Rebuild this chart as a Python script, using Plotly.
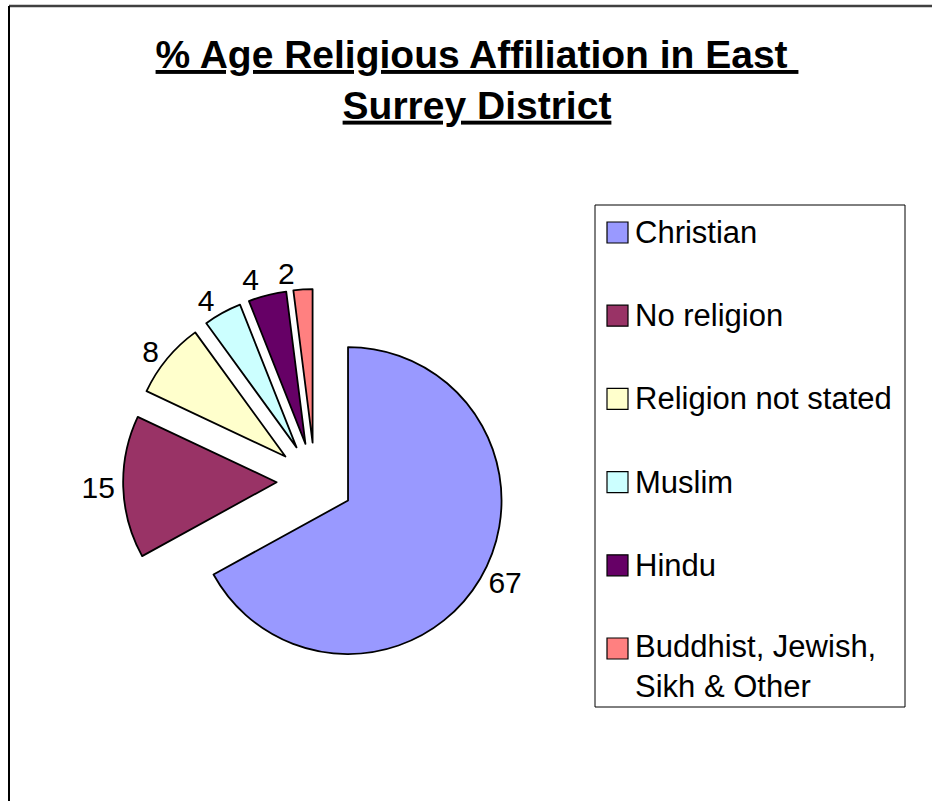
import plotly.graph_objects as go

# ---- data ----
categories = ["Christian", "No religion", "Religion not stated", "Muslim", "Hindu",
              "Buddhist, Jewish, Sikh & Other"]
values = [67, 15, 8, 4, 4, 2]
colors = ["#9999FF", "#993366", "#FFFFCC", "#CCFFFF", "#660066", "#FF8080"]
legend_labels = ["Christian", "No religion", "Religion not stated", "Muslim", "Hindu",
                 "Buddhist, Jewish,<br>Sikh & Other"]
title_lines = ["% Age Religious Affiliation in East ", "Surrey District"]

# ---- layout constants (pixels) ----
W, H = 932, 801
FONT = "Liberation Sans, Arial, sans-serif"
cx, cy, r, pull = 315, 481, 153.5, 0.25
half = r * (1 + pull)


def px(x):
    return x / W


def py(y):
    return 1 - y / H


domain = dict(x=[px(cx - half), px(cx + half)], y=[py(cy + half), py(cy - half)])
common = dict(labels=categories, values=values, sort=False, direction="clockwise", rotation=0,
              pull=[pull] * len(values), domain=domain, showlegend=False,
              textinfo="value", textfont=dict(family=FONT, size=30, color="black"))

fig = go.Figure()
# slices
fig.add_trace(go.Pie(
    marker=dict(colors=colors, line=dict(color="black", width=1.8)),
    textposition="none",
    hoverinfo="label+value",
    **common,
))
# value labels: one overlay per slice so Plotly keeps each label at its own slice
for k in range(len(values)):
    fig.add_trace(go.Pie(
        marker=dict(colors=["rgba(0,0,0,0)"] * len(values), line=dict(width=0)),
        textposition=["outside" if j == k else "none" for j in range(len(values))],
        hoverinfo="skip",
        **common,
    ))

shapes = []
annotations = []

# chart border (top and left visible)
shapes.append(dict(type="line", xref="paper", yref="paper", x0=px(9), x1=1.02, y0=py(6), y1=py(6),
                   line=dict(color="#404040", width=2.5)))
shapes.append(dict(type="line", xref="paper", yref="paper", x0=px(9), x1=px(9), y0=py(6), y1=-0.02,
                   line=dict(color="black", width=2)))

# legend box
lx0, lx1, ly0, ly1 = 595, 905, 205, 707
shapes.append(dict(type="rect", xref="paper", yref="paper", x0=px(lx0), x1=px(lx1), y0=py(ly1), y1=py(ly0),
                   line=dict(color="black", width=1), fillcolor="white", layer="below"))
first_y, step, sw, line_gap = 232.5, 83.2, 21, 35
for i, (lab, col) in enumerate(zip(legend_labels, colors)):
    yc = first_y + i * step
    shapes.append(dict(type="rect", xref="paper", yref="paper",
                       x0=px(607), x1=px(607 + sw), y0=py(yc + sw / 2), y1=py(yc - sw / 2),
                       line=dict(color="black", width=1.2), fillcolor=col))
    nlines = lab.count("<br>") + 1
    ymid = yc + (nlines - 1) * line_gap / 2
    annotations.append(dict(text=lab, xref="paper", yref="paper", x=px(633), y=py(ymid),
                            xanchor="left", yanchor="middle", align="left", showarrow=False,
                            font=dict(family=FONT, size=31, color="black")))

title_text = "<b>" + "<br>".join("<u>" + t + "</u>" for t in title_lines) + "</b>"

fig.update_layout(
    width=W, height=H,
    margin=dict(l=0, r=0, t=0, b=0),
    paper_bgcolor="white",
    plot_bgcolor="white",
    showlegend=False,
    title=dict(text=title_text, x=px(477), xanchor="center", xref="paper",
               y=1 - 68 / H, yanchor="top", yref="container",
               font=dict(family=FONT, size=39, color="black")),
    shapes=shapes,
    annotations=annotations,
)

fig.write_html("out.html", config={"displayModeBar": False},
               post_script="document.body.style.margin='0px';")
